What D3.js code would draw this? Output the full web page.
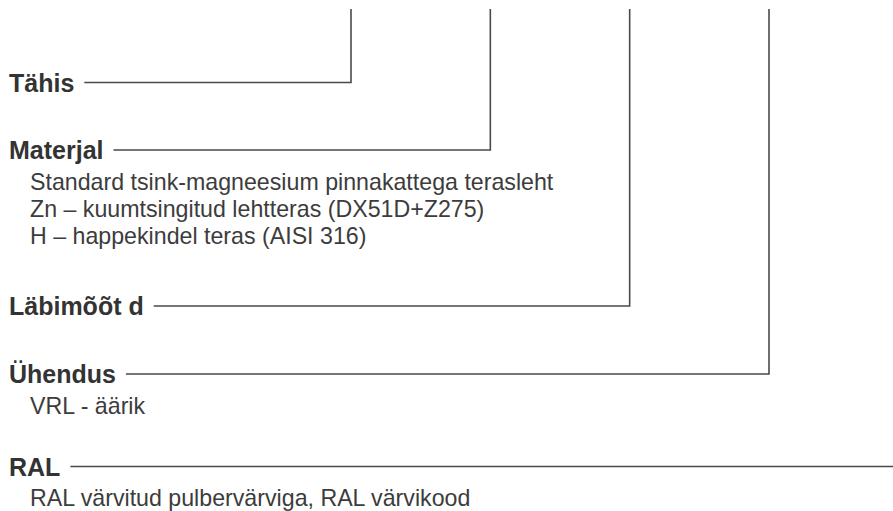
<!DOCTYPE html>
<html>
<head>
<meta charset="utf-8">
<script src="https://cdn.jsdelivr.net/npm/d3@7"></script>
<style>
  html, body { margin: 0; padding: 0; background: #fff; }
  svg { display: block; }
</style>
</head>
<body>
<svg id="chart" width="893" height="511"></svg>
<script>
// ---- data ----
const labels = ["Tähis", "Materjal", "Läbimõõt d", "Ühendus", "RAL"];
const descriptions = [
  [],
  ["Standard tsink-magneesium pinnakattega terasleht",
   "Zn – kuumtsingitud lehtteras (DX51D+Z275)",
   "H – happekindel teras (AISI 316)"],
  [],
  ["VRL - äärik"],
  ["RAL värvitud pulbervärviga, RAL värvikood"]
];
const connected = ["Tähis", "Materjal", "Läbimõõt d", "Ühendus"];

// ---- layout ----
const W = 893, H = 511;
const svg = d3.select("#chart");
const rowY = [82.5, 150, 306, 374, 466.5];   // leader line y per label
const topY = 9;
const labelX = 9, descX = 30;
const lineColor = "#4a4a4a";

const xConn = d3.scalePoint().domain(connected).range([351, 769]).padding(0);
const yRow = d3.scaleOrdinal().domain(labels).range(rowY);

const g = svg.append("g");

labels.forEach((lab, i) => {
  const y = yRow(lab);
  const t = g.append("text")
    .attr("x", labelX)
    .attr("y", y + 9)
    .attr("font-family", "'Liberation Sans', Arial, Helvetica, sans-serif")
    .attr("font-size", 25)
    .attr("font-weight", "bold")
    .attr("fill", "#333333")
    .text(lab);
  const tw = t.node().getComputedTextLength();
  const x0 = labelX + tw + 10;
  const x1 = connected.includes(lab) ? xConn(lab) : W;
  const path = d3.path();
  path.moveTo(x0, y);
  path.lineTo(x1, y);
  if (connected.includes(lab)) path.lineTo(x1, topY);
  g.append("path")
    .attr("d", path.toString())
    .attr("fill", "none")
    .attr("stroke", lineColor)
    .attr("stroke-width", 1.6)
    .attr("stroke-linejoin", "miter");

  descriptions[i].forEach((d, j) => {
    g.append("text")
      .attr("x", descX)
      .attr("y", y + 39.5 + j * 27)
      .attr("font-family", "'Liberation Sans', Arial, Helvetica, sans-serif")
      .attr("font-size", 23.2)
      .attr("fill", "#3c3c3c")
      .text(d);
  });
});
</script>
</body>
</html>
